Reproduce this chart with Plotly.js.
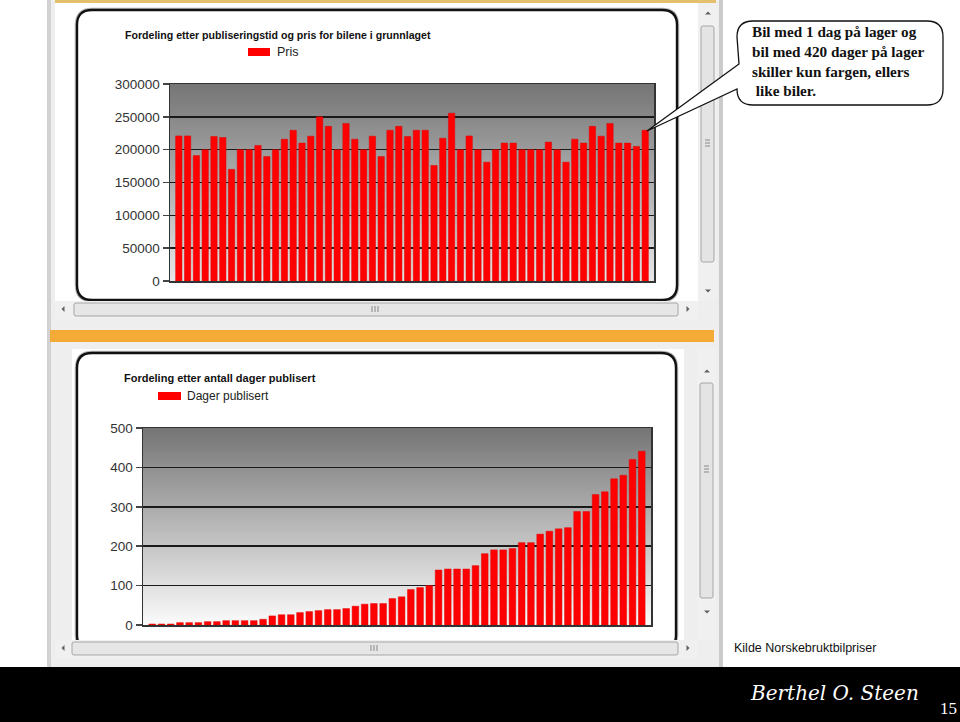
<!DOCTYPE html>
<html>
<head>
<meta charset="utf-8">
<script src="https://cdn.plot.ly/plotly-3.0.1.min.js"></script>
<style>html,body{margin:0;padding:0;background:#fff;}#chart{width:960px;height:722px;}</style>
</head>
<body>
<div id="chart"></div>
<script>
// ---------- DATA ----------
const carIndex = [1,2,3,4,5,6,7,8,9,10,11,12,13,14,15,16,17,18,19,20,21,22,23,24,25,26,27,28,29,30,31,32,33,34,35,36,37,38,39,40,41,42,43,44,45,46,47,48,49,50,51,52,53,54];
const priceValues = [221000,221000,191000,200000,220000,218500,170000,200000,200000,206500,189500,200000,216000,229500,210000,220500,250000,235500,200000,240000,216000,200000,220500,189500,229500,235500,220000,229500,229500,176000,217500,255500,200000,221000,200000,181000,200000,210000,210000,200000,200000,200000,211500,200000,181000,216000,210000,235500,220500,240000,210000,210000,205000,229500];
const daysValues = [2.5,2.5,2.5,6,6,6,8.5,8.5,11,11,11,11,14.5,23,26,26,31.5,34,36.5,39,39,41.7,47.7,52.8,54.5,54.5,67,71.5,90,95,100,139.6,142,142,142,150.6,181,190.6,190.6,194,209,209,230.6,238,244,247,288,288,331,338,371,380,420,441];
const priceTicks = [0,50000,100000,150000,200000,250000,300000];
const priceTickText = ["0","50000","100000","150000","200000","250000","300000"];
const daysTicks = [0,100,200,300,400,500];
const daysTickText = ["0","100","200","300","400","500"];
const priceTitle = "Fordeling etter publiseringstid og pris for bilene i grunnlaget";
const priceLegend = "Pris";
const daysTitle = "Fordeling etter antall dager publisert";
const daysLegend = "Dager publisert";
const calloutLines = ["Bil med 1 dag på lager og","bil med 420 dager på lager","skiller kun fargen, ellers","&nbsp;like biler."];
const sourceText = "Kilde Norskebruktbilpriser";
const pageNumber = "15";
const signatureText = "Berthel O. Steen";

// ---------- HELPERS ----------
const W = 960, H = 722;
const px = x => x / W;
const py = y => 1 - y / H;
const shapes = [];
function rect(x0, y0, x1, y1, fill, line, lw) {
  shapes.push({type:'rect', xref:'paper', yref:'paper', layer:'below',
    x0:px(x0), x1:px(x1), y0:py(y1), y1:py(y0),
    fillcolor:fill, line:{color:line||'rgba(0,0,0,0)', width:lw||0}});
}
function P(x, y) { return px(x).toFixed(5) + ',' + py(y).toFixed(5); }
function rrect(x0, y0, x1, y1, r, fill, line, lw) {
  const d = 'M' + P(x0 + r, y0) + ' L' + P(x1 - r, y0) + ' Q' + P(x1, y0) + ' ' + P(x1, y0 + r) +
    ' L' + P(x1, y1 - r) + ' Q' + P(x1, y1) + ' ' + P(x1 - r, y1) +
    ' L' + P(x0 + r, y1) + ' Q' + P(x0, y1) + ' ' + P(x0, y1 - r) +
    ' L' + P(x0, y0 + r) + ' Q' + P(x0, y0) + ' ' + P(x0 + r, y0) + ' Z';
  shapes.push({type:'path', xref:'paper', yref:'paper', layer:'below', path:d,
    fillcolor:fill, line:{color:line||'rgba(0,0,0,0)', width:lw||0}});
}
function tri(cx, cy, dir, s) {
  let d;
  if (dir === 'up') d = 'M' + P(cx - s, cy + s/2) + ' L' + P(cx + s, cy + s/2) + ' L' + P(cx, cy - s/2) + ' Z';
  else if (dir === 'down') d = 'M' + P(cx - s, cy - s/2) + ' L' + P(cx + s, cy - s/2) + ' L' + P(cx, cy + s/2) + ' Z';
  else if (dir === 'left') d = 'M' + P(cx + s/2, cy - s) + ' L' + P(cx + s/2, cy + s) + ' L' + P(cx - s/2, cy) + ' Z';
  else d = 'M' + P(cx - s/2, cy - s) + ' L' + P(cx - s/2, cy + s) + ' L' + P(cx + s/2, cy) + ' Z';
  shapes.push({type:'path', xref:'paper', yref:'paper', layer:'below', path:d,
    fillcolor:'#606060', line:{width:0}});
}
function gradient(x0, y0, x1, y1, c0, c1, n) {
  for (let i = 0; i < n; i++) {
    const yy = y0 + (y1 - y0) * i / n;
    const t = i / (n - 1);
    const c = Math.round(c0 + (c1 - c0) * t);
    rect(x0, yy, x1, y1, 'rgb(' + c + ',' + c + ',' + c + ')');
  }
}
function vline(x, y0, y1, color, w) {
  shapes.push({type:'line', xref:'paper', yref:'paper', layer:'below',
    x0:px(x), x1:px(x), y0:py(y0), y1:py(y1), line:{color:color, width:w}});
}
function hline(x0, x1, y, color, w) {
  shapes.push({type:'line', xref:'paper', yref:'paper', layer:'below',
    x0:px(x0), x1:px(x1), y0:py(y), y1:py(y), line:{color:color, width:w}});
}

// ---------- PLOT GEOMETRY (pixels) ----------
const top1 = {x0:170, x1:654, y0:84, y1:281};
const bot1 = {x0:143, x1:651, y0:428, y1:625};

// ---------- CHROME ----------
rect(48, 0, 723, 667, '#eeeeee');
rect(47, 0, 51, 667, '#d2d2d2');
rect(719, 0, 723, 667, '#cbcbcb');
// top window
rect(55, 0, 716, 3, '#e4c06a');
rect(55, 3, 698, 301, '#ffffff');
rrect(77, 10, 677, 300, 15, '#ffffff', '#b5b5b5', 4.5);
rrect(77, 10, 677, 300, 15, '#ffffff', '#111111', 2.4);
gradient(top1.x0, top1.y0, top1.x1, top1.y1, 118, 230, 60);
// top vertical scrollbar
rect(698, 3, 717, 301, '#f0f0f0');
rrect(701, 26, 714, 262, 2, '#e4e4e4', '#a6a6a6', 1);
hline(705, 710, 140, '#888', 1); hline(705, 710, 143, '#888', 1); hline(705, 710, 146, '#888', 1);
tri(708, 13, 'up', 3); tri(708, 291, 'down', 3);
// top horizontal scrollbar
rect(55, 301, 698, 319, '#f0f0f0');
rrect(74, 303, 678, 316, 2, '#e6e6e6', '#a6a6a6', 1);
vline(372, 306, 312, '#888', 1); vline(375, 306, 312, '#888', 1); vline(378, 306, 312, '#888', 1);
tri(63, 309, 'left', 3); tri(688, 309, 'right', 3);
// orange band
rect(50, 330, 714, 342, '#f3aa36');
// bottom window
rect(72, 349, 684, 640, '#ffffff');
rrect(77, 353, 676, 650, 15, '#ffffff', '#b5b5b5', 4.5);
rrect(77, 353, 676, 650, 15, '#ffffff', '#111111', 2.4);
gradient(bot1.x0, bot1.y0, bot1.x1, bot1.y1, 118, 250, 60);
// bottom vertical scrollbar
rect(697, 349, 716, 640, '#f0f0f0');
rrect(700, 383, 713, 598, 2, '#e4e4e4', '#a6a6a6', 1);
hline(704, 709, 466, '#888', 1); hline(704, 709, 469, '#888', 1); hline(704, 709, 472, '#888', 1);
tri(707, 371, 'up', 3); tri(707, 612, 'down', 3);
// bottom horizontal scrollbar
rect(55, 640, 697, 658, '#f0f0f0');
rrect(72, 642, 678, 655, 2, '#e6e6e6', '#a6a6a6', 1);
vline(371, 645, 651, '#888', 1); vline(374, 645, 651, '#888', 1); vline(377, 645, 651, '#888', 1);
tri(63, 648, 'left', 3); tri(688, 648, 'right', 3);
// legend swatches
rect(248, 48, 270, 56, '#ff0000');
rect(158, 392, 181, 400, '#ff0000');
// footer
rect(0, 667, 960, 722, '#000000');
// callout bubble
(function(){
  const x0 = 737, y0 = 21, x1 = 943, y1 = 105, r = 16;
  const d = 'M' + P(x0 + r, y0) + ' L' + P(x1 - r, y0) + ' Q' + P(x1, y0) + ' ' + P(x1, y0 + r) +
    ' L' + P(x1, y1 - r) + ' Q' + P(x1, y1) + ' ' + P(x1 - r, y1) +
    ' L' + P(x0 + r, y1) + ' Q' + P(x0, y1) + ' ' + P(x0, y1 - r) +
    ' L' + P(x0, 89) + ' L' + P(647, 131) + ' L' + P(x0 + 2, 64) +
    ' L' + P(x0, y0 + r) + ' Q' + P(x0, y0) + ' ' + P(x0 + r, y0) + ' Z';
  shapes.push({type:'path', xref:'paper', yref:'paper', layer:'above', path:d,
    fillcolor:'rgba(255,255,255,1)', line:{color:'#111', width:1.3}});
})();

// ---------- ANNOTATIONS ----------
const narrow = 'Liberation Sans Narrow, Arial Narrow, Liberation Sans, Arial, sans-serif';
const arial = 'Liberation Sans, Arial, sans-serif';
const annotations = [
  {text:'<b>' + priceTitle + '</b>', x:px(123), y:py(35), xanchor:'left', yanchor:'middle',
   font:{family:narrow, size:10.6, color:'#111'}},
  {text:priceLegend, x:px(275), y:py(52), xanchor:'left', yanchor:'middle',
   font:{family:narrow, size:12.5, color:'#222'}},
  {text:'<b>' + daysTitle + '</b>', x:px(122), y:py(378), xanchor:'left', yanchor:'middle',
   font:{family:narrow, size:11, color:'#111'}},
  {text:daysLegend, x:px(185), y:py(396), xanchor:'left', yanchor:'middle',
   font:{family:arial, size:12, color:'#222'}},
  {text:'<b>' + calloutLines.join('<br>') + '</b>', x:px(750), y:py(61), xanchor:'left', yanchor:'middle', align:'left',
   font:{family:'Liberation Serif, Times New Roman, serif', size:15.2, color:'#111'}},
  {text:sourceText, x:px(732), y:py(648), xanchor:'left', yanchor:'middle',
   font:{family:arial, size:12.5, color:'#111'}},
  {text:'<i>' + signatureText + '</i>', x:px(834), y:py(693), xanchor:'center', yanchor:'middle',
   font:{family:'DejaVu Serif, serif', size:20, color:'#ffffff'}},
  {text:pageNumber, x:px(948), y:py(708), xanchor:'center', yanchor:'middle',
   font:{family:'Liberation Serif, Times New Roman, serif', size:17, color:'#ffffff'}}
].map(a => Object.assign({xref:'paper', yref:'paper', showarrow:false}, a));

// ---------- TRACES ----------
const traces = [
  {type:'bar', x:carIndex, y:priceValues, name:priceLegend, xaxis:'x', yaxis:'y',
   marker:{color:'#ff0000', line:{color:'#e00000', width:0.5}}, showlegend:false, hoverinfo:'y'},
  {type:'bar', x:carIndex, y:daysValues, name:daysLegend, xaxis:'x2', yaxis:'y2',
   marker:{color:'#ff0000', line:{color:'#e00000', width:0.5}}, showlegend:false, hoverinfo:'y'}
];

const yCommon = {
  ticks:'outside', ticklen:6, tickwidth:1.5, tickcolor:'#444',
  showgrid:true, gridcolor:'#1a1a1a', gridwidth:1.5,
  showline:true, linecolor:'#333', linewidth:1.5, mirror:true,
  zeroline:false, fixedrange:true,
  tickfont:{family:arial, size:13.5, color:'#333'}
};
const xCommon = {
  showticklabels:false, ticks:'', showgrid:false, zeroline:false,
  showline:true, linecolor:'#333', linewidth:1.5, mirror:true, fixedrange:true
};

const layout = {
  width:W, height:H, margin:{l:0, r:0, t:0, b:0},
  paper_bgcolor:'#ffffff', plot_bgcolor:'rgba(0,0,0,0)',
  showlegend:false, bargap:0.28,
  xaxis:Object.assign({}, xCommon, {domain:[px(top1.x0), px(top1.x1)], range:[0, 55], anchor:'y'}),
  yaxis:Object.assign({}, yCommon, {domain:[py(top1.y1), py(top1.y0)], range:[0, 300000],
    tickvals:priceTicks, ticktext:priceTickText, anchor:'x'}),
  xaxis2:Object.assign({}, xCommon, {domain:[px(bot1.x0), px(bot1.x1)], range:[0, 55], anchor:'y2'}),
  yaxis2:Object.assign({}, yCommon, {domain:[py(bot1.y1), py(bot1.y0)], range:[0, 500],
    tickvals:daysTicks, ticktext:daysTickText, anchor:'x2'}),
  shapes:shapes,
  annotations:annotations
};

Plotly.newPlot('chart', traces, layout, {displayModeBar:false, staticPlot:true});
</script>
</body>
</html>
